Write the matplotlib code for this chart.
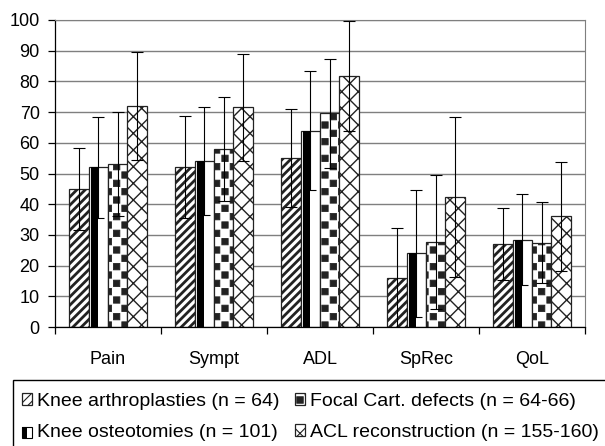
import numpy as np
import matplotlib
matplotlib.use("Agg")
import matplotlib.pyplot as plt
import matplotlib.hatch as mhatch
from matplotlib.path import Path
from matplotlib.patches import Rectangle

plt.rcParams['font.family'] = ['Liberation Sans', 'DejaVu Sans']

categories = ["Pain", "Sympt", "ADL", "SpRec", "QoL"]
groups = ["Knee arthroplasties (n = 64)", "Knee osteotomies (n = 101)",
          "Focal Cart. defects (n = 64-66)", "ACL reconstruction (n = 155-160)"]

arthroplasty = [45, 52, 55, 16, 27]
arthroplasty_sd = [13.4, 16.6, 15.9, 16.3, 11.7]
osteotomy = [52, 54, 64, 24, 28.5]
osteotomy_sd = [16.4, 17.6, 19.3, 20.7, 14.8]
focal = [53, 58, 69.6, 27.6, 27.5]
focal_sd = [17, 16.8, 17.7, 21.8, 13.3]
acl = [72, 71.5, 81.8, 42.4, 36]
acl_sd = [17.7, 17.4, 17.9, 26.1, 17.8]


# staggered little black squares, used in place of the '*' (stars) hatch
class SquareDots(mhatch.HatchPatternBase):
    def __init__(self, hatch, density):
        n = hatch.count('*') * density
        self.n = n
        self.num_vertices = 0
        if n == 0:
            return
        pts = []
        for r in range(2 * n + 1):
            y = r / (2 * n)
            shift = 0 if r % 2 == 0 else 0.5 / n
            for c in range(n + 1):
                xx = c / n + shift
                if xx <= 1 + 1e-9:
                    pts.append((xx, y))
        self.pts = np.array(pts)
        self.num_vertices = len(pts) * 5

    def set_vertices_and_codes(self, vertices, codes):
        h = 0.19 / self.n
        sq = np.array([[-h, -h], [h, -h], [h, h], [-h, h], [-h, -h]])
        vertices[:] = (self.pts[:, None, :] + sq[None]).reshape(-1, 2)
        codes[:] = np.tile([Path.MOVETO, Path.LINETO, Path.LINETO,
                            Path.LINETO, Path.CLOSEPOLY], len(self.pts))


mhatch._hatch_types[mhatch._hatch_types.index(mhatch.Stars)] = SquareDots

fig = plt.figure(figsize=(6.05, 4.46), dpi=100)
ax = fig.add_axes([55 / 605, 1 - 327 / 446, 530 / 605, 307 / 446])

x = np.arange(len(categories))
w = 0.183
offs = (np.arange(4) - 1.5) * w


def keep_hatch_lw(artist, lw):
    # hatch linewidth comes from rcParams, so pin it for this artist's draw
    if hasattr(artist, 'set_hatch_linewidth'):
        artist.set_hatch_linewidth(lw)
    orig = artist.draw

    def draw(renderer):
        with plt.rc_context({'hatch.linewidth': lw}):
            orig(renderer)
    artist.draw = draw


def hatched_bar(xs, vals, hatch, hlw):
    with plt.rc_context({'hatch.linewidth': hlw, 'hatch.color': 'black'}):
        bars = ax.bar(xs, vals, w, color='white', edgecolor='#222222',
                      linewidth=0.9, hatch=hatch, zorder=2)
    for b in bars:
        keep_hatch_lw(b, hlw)
    return bars


b1 = hatched_bar(x + offs[0], arthroplasty, '////', 2.0)
b2 = ax.bar(x + offs[1], osteotomy, w, color='white', edgecolor='#222222',
            linewidth=0.9, zorder=2)
ax.bar(x + offs[1] - w / 2 + 0.14 * w, osteotomy, 0.32 * w, align='edge',
       color='black', linewidth=0, zorder=2.1)
b3 = hatched_bar(x + offs[2], focal, '*', 0.6)
b4 = hatched_bar(x + offs[3], acl, 'xx', 1.0)

for i, (vals, sd) in enumerate([(arthroplasty, arthroplasty_sd), (osteotomy, osteotomy_sd),
                                (focal, focal_sd), (acl, acl_sd)]):
    ax.errorbar(x + offs[i], vals, yerr=sd, fmt='none', ecolor='black',
                elinewidth=0.8, capsize=4, capthick=0.8, zorder=3)

ax.set_xlim(-0.5, len(categories) - 0.5)
ax.set_ylim(0, 100)
ax.set_yticks(np.arange(0, 101, 10))
ax.yaxis.grid(True, color='#7f7f7f', linewidth=1.0)
ax.set_axisbelow(True)
ax.tick_params(axis='y', labelsize=13, length=5, width=0.9, pad=6)

ax.set_xticks(x)
ax.set_xticklabels(categories)
ax.set_xticks(np.arange(-0.5, len(categories)), minor=True)
ax.tick_params(axis='x', which='major', length=0, labelsize=13, pad=17)
ax.tick_params(axis='x', which='minor', length=5, width=0.9, direction='out')

for s in ['left', 'bottom']:
    ax.spines[s].set_color('black')
    ax.spines[s].set_linewidth(0.9)
ax.spines['right'].set_color('#7f7f7f')
ax.spines['top'].set_color('#7f7f7f')


class HalfBlack:
    def legend_artist(self, legend, orig_handle, fontsize, handlebox):
        x0, y0 = handlebox.xdescent, handlebox.ydescent
        hw, hh = handlebox.width, handlebox.height
        t = handlebox.get_transform()
        r1 = Rectangle((x0, y0), hw, hh, facecolor='white', edgecolor='black', lw=0.8, transform=t)
        r2 = Rectangle((x0, y0), hw * 0.5, hh, facecolor='black', lw=0, transform=t)
        handlebox.add_artist(r1)
        handlebox.add_artist(r2)
        return r1


fig.patches.append(Rectangle((12.5 / 605, -0.01), 0.99, 1 - 380 / 446 + 0.01,
                             transform=fig.transFigure, facecolor='none',
                             edgecolor='black', linewidth=1.0))
leg = fig.legend([b1, b2, b3, b4], groups, ncol=2, loc='upper left',
                 bbox_to_anchor=(22 / 605, 1 - 393 / 446), bbox_transform=fig.transFigure,
                 frameon=False, fontsize=14, handlelength=0.52, handleheight=0.52,
                 handletextpad=0.25, columnspacing=0.8, labelspacing=0.72, borderpad=0,
                 borderaxespad=0, handler_map={b2: HalfBlack()})
for h in leg.legend_handles:
    if h.get_hatch():
        keep_hatch_lw(h, 0.8)

plt.savefig("out.png", dpi=100)
